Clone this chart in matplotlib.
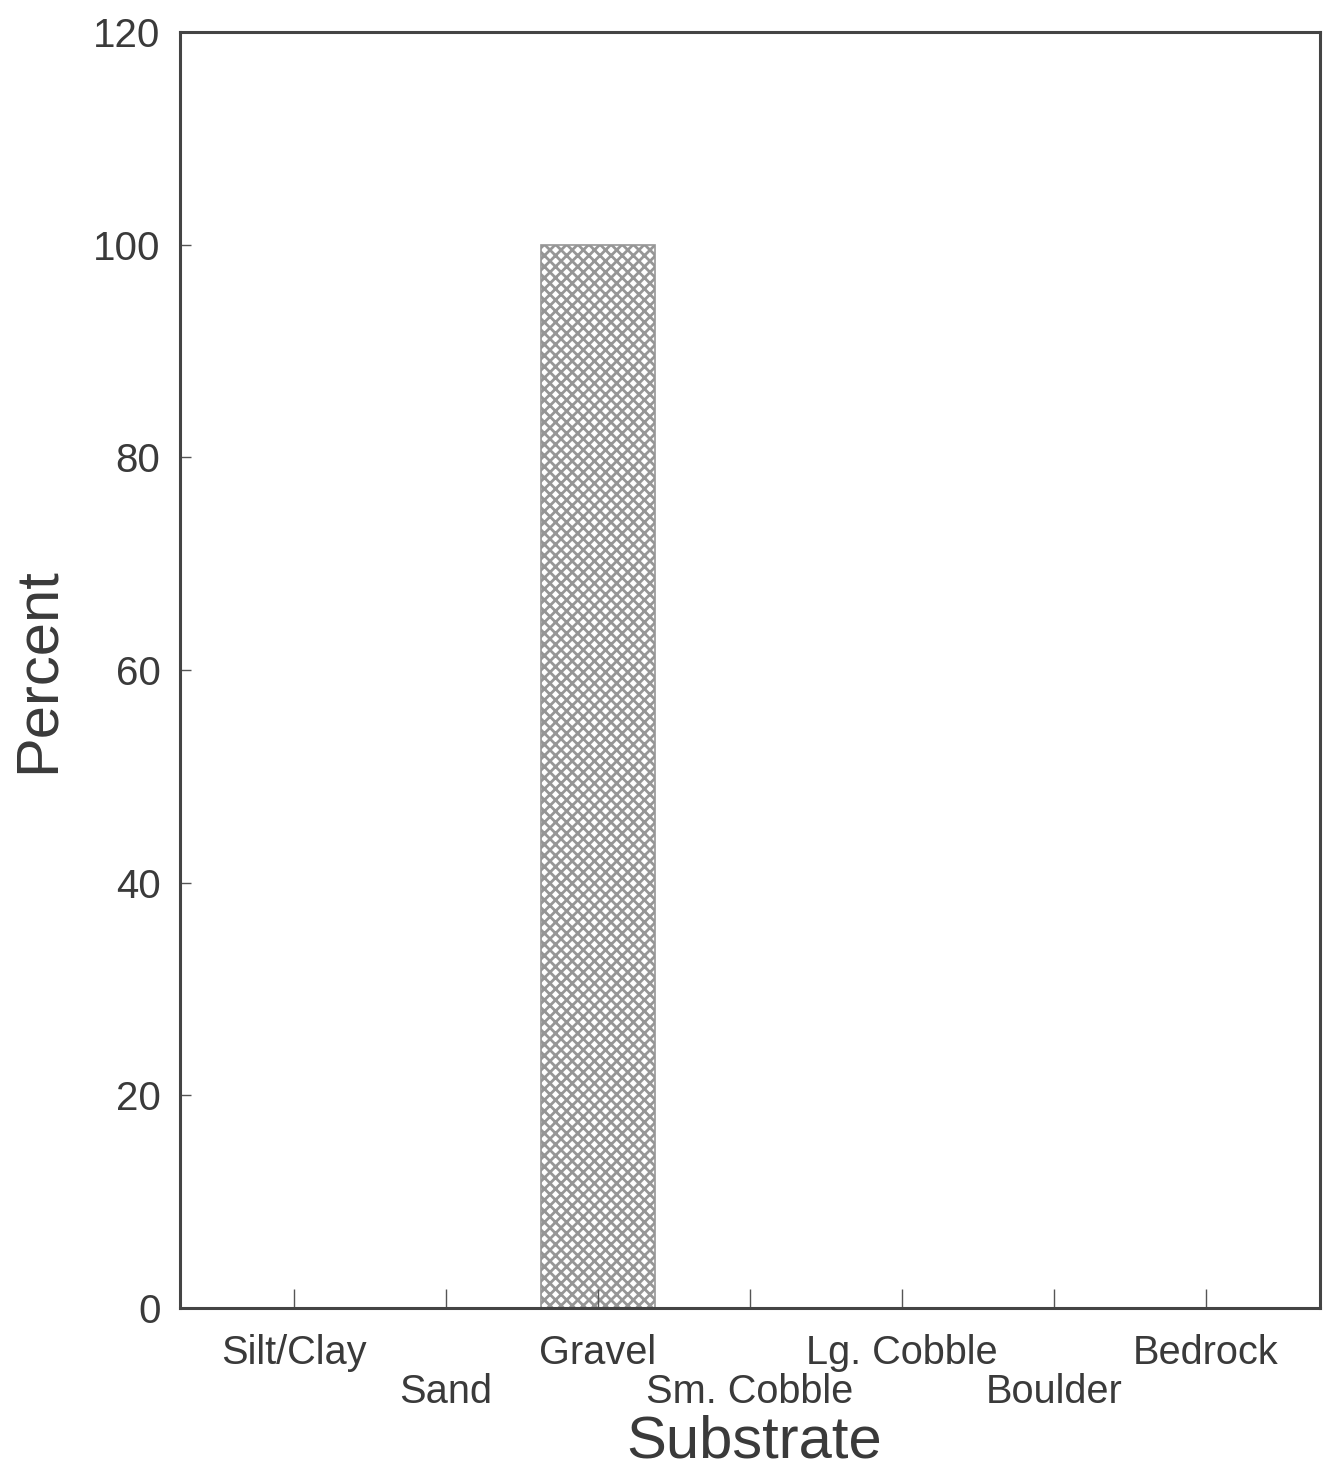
import matplotlib
matplotlib.use("Agg")
import matplotlib.pyplot as plt

# substrate composition
categories = ["Silt/Clay", "Sand", "Gravel", "Sm. Cobble", "Lg. Cobble", "Boulder", "Bedrock"]
percent = [0, 0, 100, 0, 0, 0, 0]
yticks = [0, 20, 40, 60, 80, 100, 120]

plt.rcParams['font.family'] = ['Liberation Sans', 'DejaVu Sans']
plt.rcParams['hatch.color'] = '#969696'
plt.rcParams['hatch.linewidth'] = 1.0

txt = '#3a3a3a'
fig = plt.figure(figsize=(6.64, 7.405), dpi=200)
ax = fig.add_axes([0.1355, 0.1168, 0.8585, 0.8616])

x = list(range(len(categories)))
ax.bar(x, percent, width=0.75, color='white', edgecolor='#969696', linewidth=0.6, hatch='xxxxxx')

ax.set_xlim(-0.75, 6.75)
ax.set_ylim(0, 120)
ax.set_yticks(yticks)
ax.set_yticklabels([str(v) for v in yticks], fontsize=14.5, color=txt)
ax.set_xticks(x)
ax.set_xticklabels([])
ax.tick_params(axis='y', direction='in', length=4, width=0.5, color='#555555', pad=7)
ax.tick_params(axis='x', direction='in', length=7, width=0.5, color='#555555')

# staggered category labels
for i, name in enumerate(categories):
    yoff = -0.035 if i % 2 == 0 else -0.066
    ax.text(i, yoff, name, transform=ax.get_xaxis_transform(), ha='center', va='center',
            fontsize=14.3, color=txt)

for s in ax.spines.values():
    s.set_linewidth(1.1)
    s.set_color('#444444')

ax.set_ylabel('Percent', fontsize=21.5, color=txt, labelpad=10)
fig.text(0.568, 0.026, 'Substrate', ha='center', va='center', fontsize=21.5, color=txt)

fig.savefig('out.png', dpi=200, facecolor='white')
